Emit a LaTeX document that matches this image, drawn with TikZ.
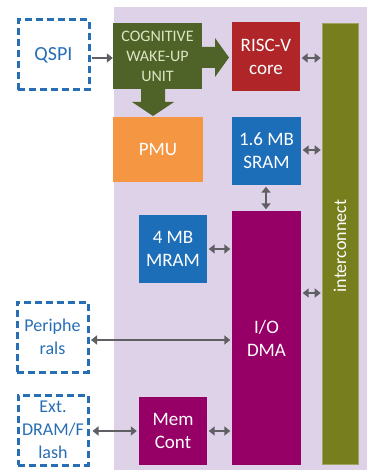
\documentclass[tikz,border=0pt]{standalone}
\usepackage{fontspec}
\setmainfont{Carlito}
\usetikzlibrary{arrows.meta}
\definecolor{bglav}{RGB}{222,210,233}
\definecolor{cwgreen}{RGB}{79,98,40}
\definecolor{cwtext}{RGB}{220,230,195}
\definecolor{riscred}{RGB}{176,38,40}
\definecolor{pmuorange}{RGB}{244,150,66}
\definecolor{memblue}{RGB}{28,110,185}
\definecolor{dmapurple}{RGB}{150,0,102}
\definecolor{icolive}{RGB}{118,126,30}
\definecolor{dashblue}{RGB}{40,110,180}
\definecolor{arrgray}{RGB}{95,95,100}
\tikzset{
  blk/.style={draw=none, inner sep=0pt, text=white, align=center,
    font=\fontsize{19}{23}\selectfont},
  extbox/.style={draw=dashblue, line width=3pt, dash pattern=on 7pt off 4pt,
    inner sep=0pt, text=dashblue, align=center, font=\fontsize{18}{23}\selectfont},
  link/.style={draw=arrgray, line width=2.5pt,
    {Triangle[length=6pt,width=9pt]}-{Triangle[length=6pt,width=9pt]}},
  onelink/.style={draw=arrgray, line width=2.5pt, -{Triangle[length=6pt,width=9pt]}},
}
\begin{document}
\begin{tikzpicture}[x=1pt,y=-1pt]
\useasboundingbox (0,0) rectangle (367,470);
\fill[bglav] (113.5,7) rectangle (367,470);

\node[extbox, minimum width=71pt, minimum height=70pt, font=\fontsize{20}{23}\selectfont] (qspi) at (53.5,55) {QSPI};
\node[extbox, minimum width=71pt, minimum height=70pt] (peri) at (52.5,337) {Periphe\\rals};
\node[extbox, minimum width=70pt, minimum height=70pt] (ext) at (53,430) {Ext.\\DRAM/F\\lash};

\node[blk, fill=cwgreen, text=cwtext, minimum width=89pt, minimum height=66pt,
  font=\fontsize{16}{20}\selectfont] (cw) at (157.5,56) {COGNITIVE\\WAKE-UP\\UNIT};
% big right arrow
\fill[cwgreen] (202,47) -- (215,47) -- (215,38) -- (229,57.5) -- (215,77) -- (215,68) -- (202,68) -- cycle;
% big down arrow
\fill[cwgreen] (141,88.5) -- (165,88.5) -- (165,102) -- (174,102) -- (153,116) -- (132,102) -- (141,102) -- cycle;

\node[blk, fill=riscred, minimum width=68pt, minimum height=69pt] (risc) at (266,56.5) {RISC-V\\core};
\node[blk, fill=pmuorange, minimum width=90pt, minimum height=65pt] (pmu) at (158,149.5) {PMU};
\node[blk, fill=memblue, minimum width=69pt, minimum height=68pt] (sram) at (266.5,151) {1.6 MB\\SRAM};
\node[blk, fill=dmapurple, minimum width=69pt, minimum height=254pt] (dma) at (266.5,338) {I/O\\DMA};
\node[blk, fill=memblue, minimum width=68pt, minimum height=68pt] (mram) at (173,249) {4 MB\\MRAM};
\node[blk, fill=dmapurple, minimum width=68pt, minimum height=68pt] (mem) at (173,431) {Mem\\Cont};
\node[blk, fill=icolive, draw=icolive!70!white, line width=0.6pt, minimum width=36pt, minimum height=441pt] (ic) at (340,243.5) {};
\node[text=white, rotate=90, font=\fontsize{18}{22}\selectfont] (ictext) at (340,246) {interconnect};

\draw[onelink] (qspi.east |- 0,58) ++(1.5,0) coordinate (q1) -- (cw.west |- q1);
\draw[link] ([xshift=1.5pt]risc.east |- 0,58) -- ([xshift=-1pt]ic.west |- 0,58);
\draw[link] ([xshift=1.5pt]sram.east |- 0,150) -- ([xshift=-1pt]ic.west |- 0,150);
\draw[link] ([yshift=-1.5pt]sram.south -| 266,0) -- ([yshift=1.5pt]dma.north -| 266,0);
\draw[link] ([xshift=1.5pt]mram.east) -- ([xshift=-1.5pt]dma.west |- mram.east);
\draw[link] ([xshift=1.5pt]dma.east |- 0,293) -- ([xshift=-1pt]ic.west |- 0,293);
\draw[link] ([xshift=1.5pt]peri.east |- 0,340) -- ([xshift=-1.5pt]dma.west |- 0,340);
\draw[link] ([xshift=3pt]ext.east |- 0,431) -- ([xshift=-2pt]mem.west |- 0,431);
\draw[link] ([xshift=1.5pt]mem.east |- 0,431) -- ([xshift=-1.5pt]dma.west |- 0,431);
\end{tikzpicture}
\end{document}
